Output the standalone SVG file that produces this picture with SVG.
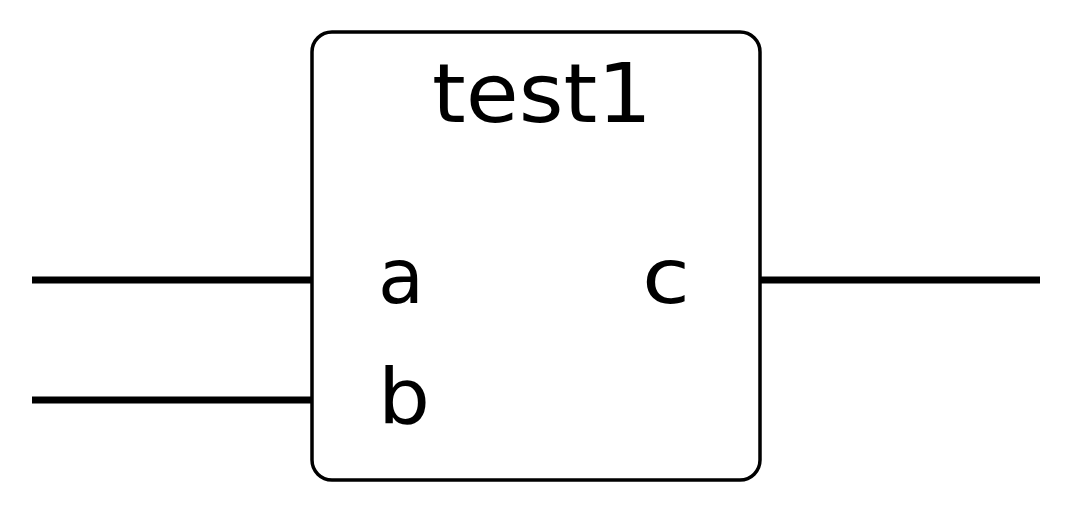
<svg xmlns="http://www.w3.org/2000/svg" width="1070" height="512" viewBox="0 0 1070 512">
<style>
.wire{stroke:#000;stroke-width:7;fill:none}
.box{fill:#fff;stroke:#000;stroke-width:3.5}
.t{font-family:"DejaVu Sans",sans-serif;fill:#000}
</style>
<rect width="1070" height="512" fill="#fff"/>
<g id="connectors">
<line class="wire" x1="32" y1="280" x2="312" y2="280"/>
<line class="wire" x1="32" y1="400" x2="312" y2="400"/>
<line class="wire" x1="760" y1="280" x2="1040" y2="280"/>
</g>
<g id="test1">
<rect class="box" x="312" y="32" width="448" height="448" rx="20" ry="20"/>
<text class="t" x="432" y="122" font-size="82" textLength="220" lengthAdjust="spacingAndGlyphs">test1</text>
<text class="t" x="378" y="303" font-size="76" textLength="46" lengthAdjust="spacingAndGlyphs">a</text>
<text class="t" x="378" y="423" font-size="76" textLength="52" lengthAdjust="spacingAndGlyphs">b</text>
<text class="t" x="642" y="303" font-size="76" textLength="48" lengthAdjust="spacingAndGlyphs">c</text>
</g>
</svg>
